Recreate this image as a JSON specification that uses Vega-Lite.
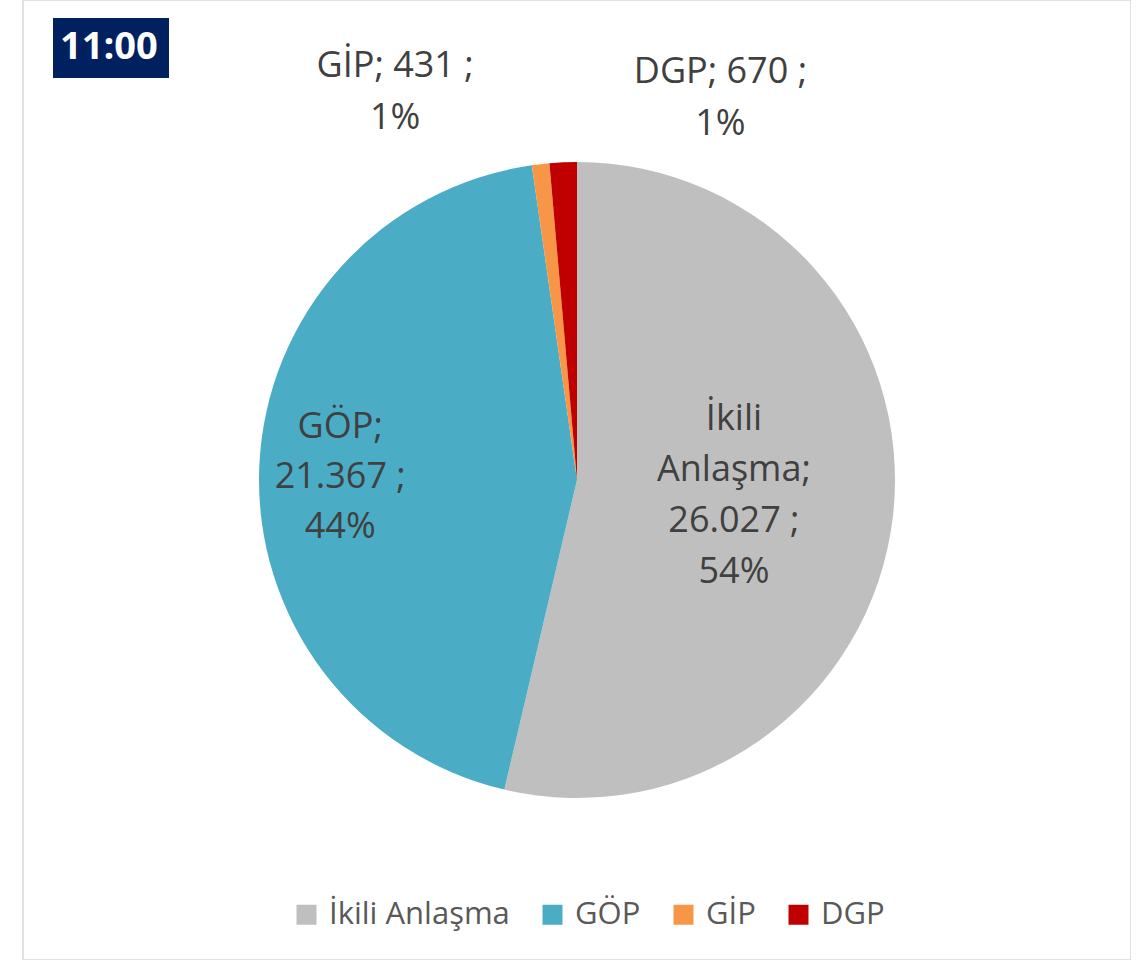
{
  "$schema": "https://vega.github.io/schema/vega-lite/v6.json",
  "width": 1108,
  "height": 960,
  "autosize": {"type": "none"},
  "padding": {"left": 23, "top": 0, "right": 0, "bottom": 0},
  "background": "white",
  "config": {
    "view": {"stroke": "#d9d9d9", "strokeWidth": 1.5},
    "font": "Open Sans"
  },
  "data": {
    "values": [
      {"cat": "İkili Anlaşma", "val": 26027, "order": 1, "lbl": "İkili\nAnlaşma;\n26.027 ;\n54%"},
      {"cat": "GÖP", "val": 21367, "order": 2, "lbl": "GÖP;\n21.367 ;\n44%"},
      {"cat": "GİP", "val": 431, "order": 3, "lbl": "GİP; 431 ;\n1%"},
      {"cat": "DGP", "val": 670, "order": 4, "lbl": "DGP; 670 ;\n1%"}
    ]
  },
  "layer": [
    {
      "data": {"values": [{"frame": 1}]},
      "mark": {"type": "rect", "filled": false, "stroke": "#d9d9d9", "strokeWidth": 1.5},
      "encoding": {}
    },
    {
      "mark": {"type": "arc", "outerRadius": 318},
      "encoding": {
        "theta": {"field": "val", "type": "quantitative", "stack": true},
        "order": {"field": "order", "type": "quantitative"},
        "color": {
          "field": "cat",
          "type": "nominal",
          "scale": {
            "domain": ["İkili Anlaşma", "GÖP", "GİP", "DGP"],
            "range": ["#bfbfbf", "#4bacc6", "#f79646", "#c00000"]
          },
          "legend": {
            "orient": "none",
            "legendX": 268,
            "legendY": 899,
            "direction": "horizontal",
            "title": null,
            "symbolType": "square",
            "symbolSize": 400,
            "symbolStrokeWidth": 0,
            "labelFontSize": 31,
            "labelFont": "Open Sans",
            "labelColor": "#595959",
            "labelOffset": 7,
            "columnPadding": 27,
            "labelLimit": 400
          }
        }
      }
    },
    {
      "mark": {"type": "text", "radius": 158, "fontSize": 36, "lineBreak": "\n", "lineHeight": 51, "color": "#404040", "align": "center", "baseline": "middle", "dy": -79},
      "encoding": {
        "theta": {"field": "val", "type": "quantitative", "stack": true},
        "order": {"field": "order", "type": "quantitative"},
        "text": {"field": "lbl", "type": "nominal"},
        "opacity": {"condition": {"test": "datum.cat === 'İkili Anlaşma'", "value": 1}, "value": 0}
      }
    },
    {
      "mark": {"type": "text", "radius": 237, "fontSize": 36, "lineBreak": "\n", "lineHeight": 50, "color": "#404040", "align": "center", "baseline": "middle", "dy": -43},
      "encoding": {
        "theta": {"field": "val", "type": "quantitative", "stack": true},
        "order": {"field": "order", "type": "quantitative"},
        "text": {"field": "lbl", "type": "nominal"},
        "opacity": {"condition": {"test": "datum.cat === 'GÖP'", "value": 1}, "value": 0}
      }
    },
    {
      "mark": {"type": "text", "radius": 392, "fontSize": 36, "lineBreak": "\n", "lineHeight": 52, "color": "#404040", "align": "center", "baseline": "middle", "dx": -137, "dy": -25},
      "encoding": {
        "theta": {"field": "val", "type": "quantitative", "stack": true},
        "order": {"field": "order", "type": "quantitative"},
        "text": {"field": "lbl", "type": "nominal"},
        "opacity": {"condition": {"test": "datum.cat === 'GİP'", "value": 1}, "value": 0}
      }
    },
    {
      "mark": {"type": "text", "radius": 382, "fontSize": 36, "lineBreak": "\n", "lineHeight": 52, "color": "#404040", "align": "center", "baseline": "middle", "dx": 160, "dy": -26},
      "encoding": {
        "theta": {"field": "val", "type": "quantitative", "stack": true},
        "order": {"field": "order", "type": "quantitative"},
        "text": {"field": "lbl", "type": "nominal"},
        "opacity": {"condition": {"test": "datum.cat === 'DGP'", "value": 1}, "value": 0}
      }
    },
    {
      "data": {"values": [{"t": "11:00"}]},
      "mark": {"type": "point", "opacity": 0},
      "encoding": {
        "shape": {
          "field": "t",
          "type": "nominal",
          "legend": {
            "orient": "none",
            "legendX": 30,
            "legendY": 18,
            "title": null,
            "fillColor": "#002060",
            "padding": 11,
            "labelColor": "white",
            "labelFont": "Open Sans",
            "labelFontWeight": "bold",
            "labelFontSize": 38,
            "symbolSize": 0,
            "symbolOpacity": 0,
            "symbolStrokeWidth": 0,
            "labelOffset": -42
          }
        }
      }
    }
  ]
}
